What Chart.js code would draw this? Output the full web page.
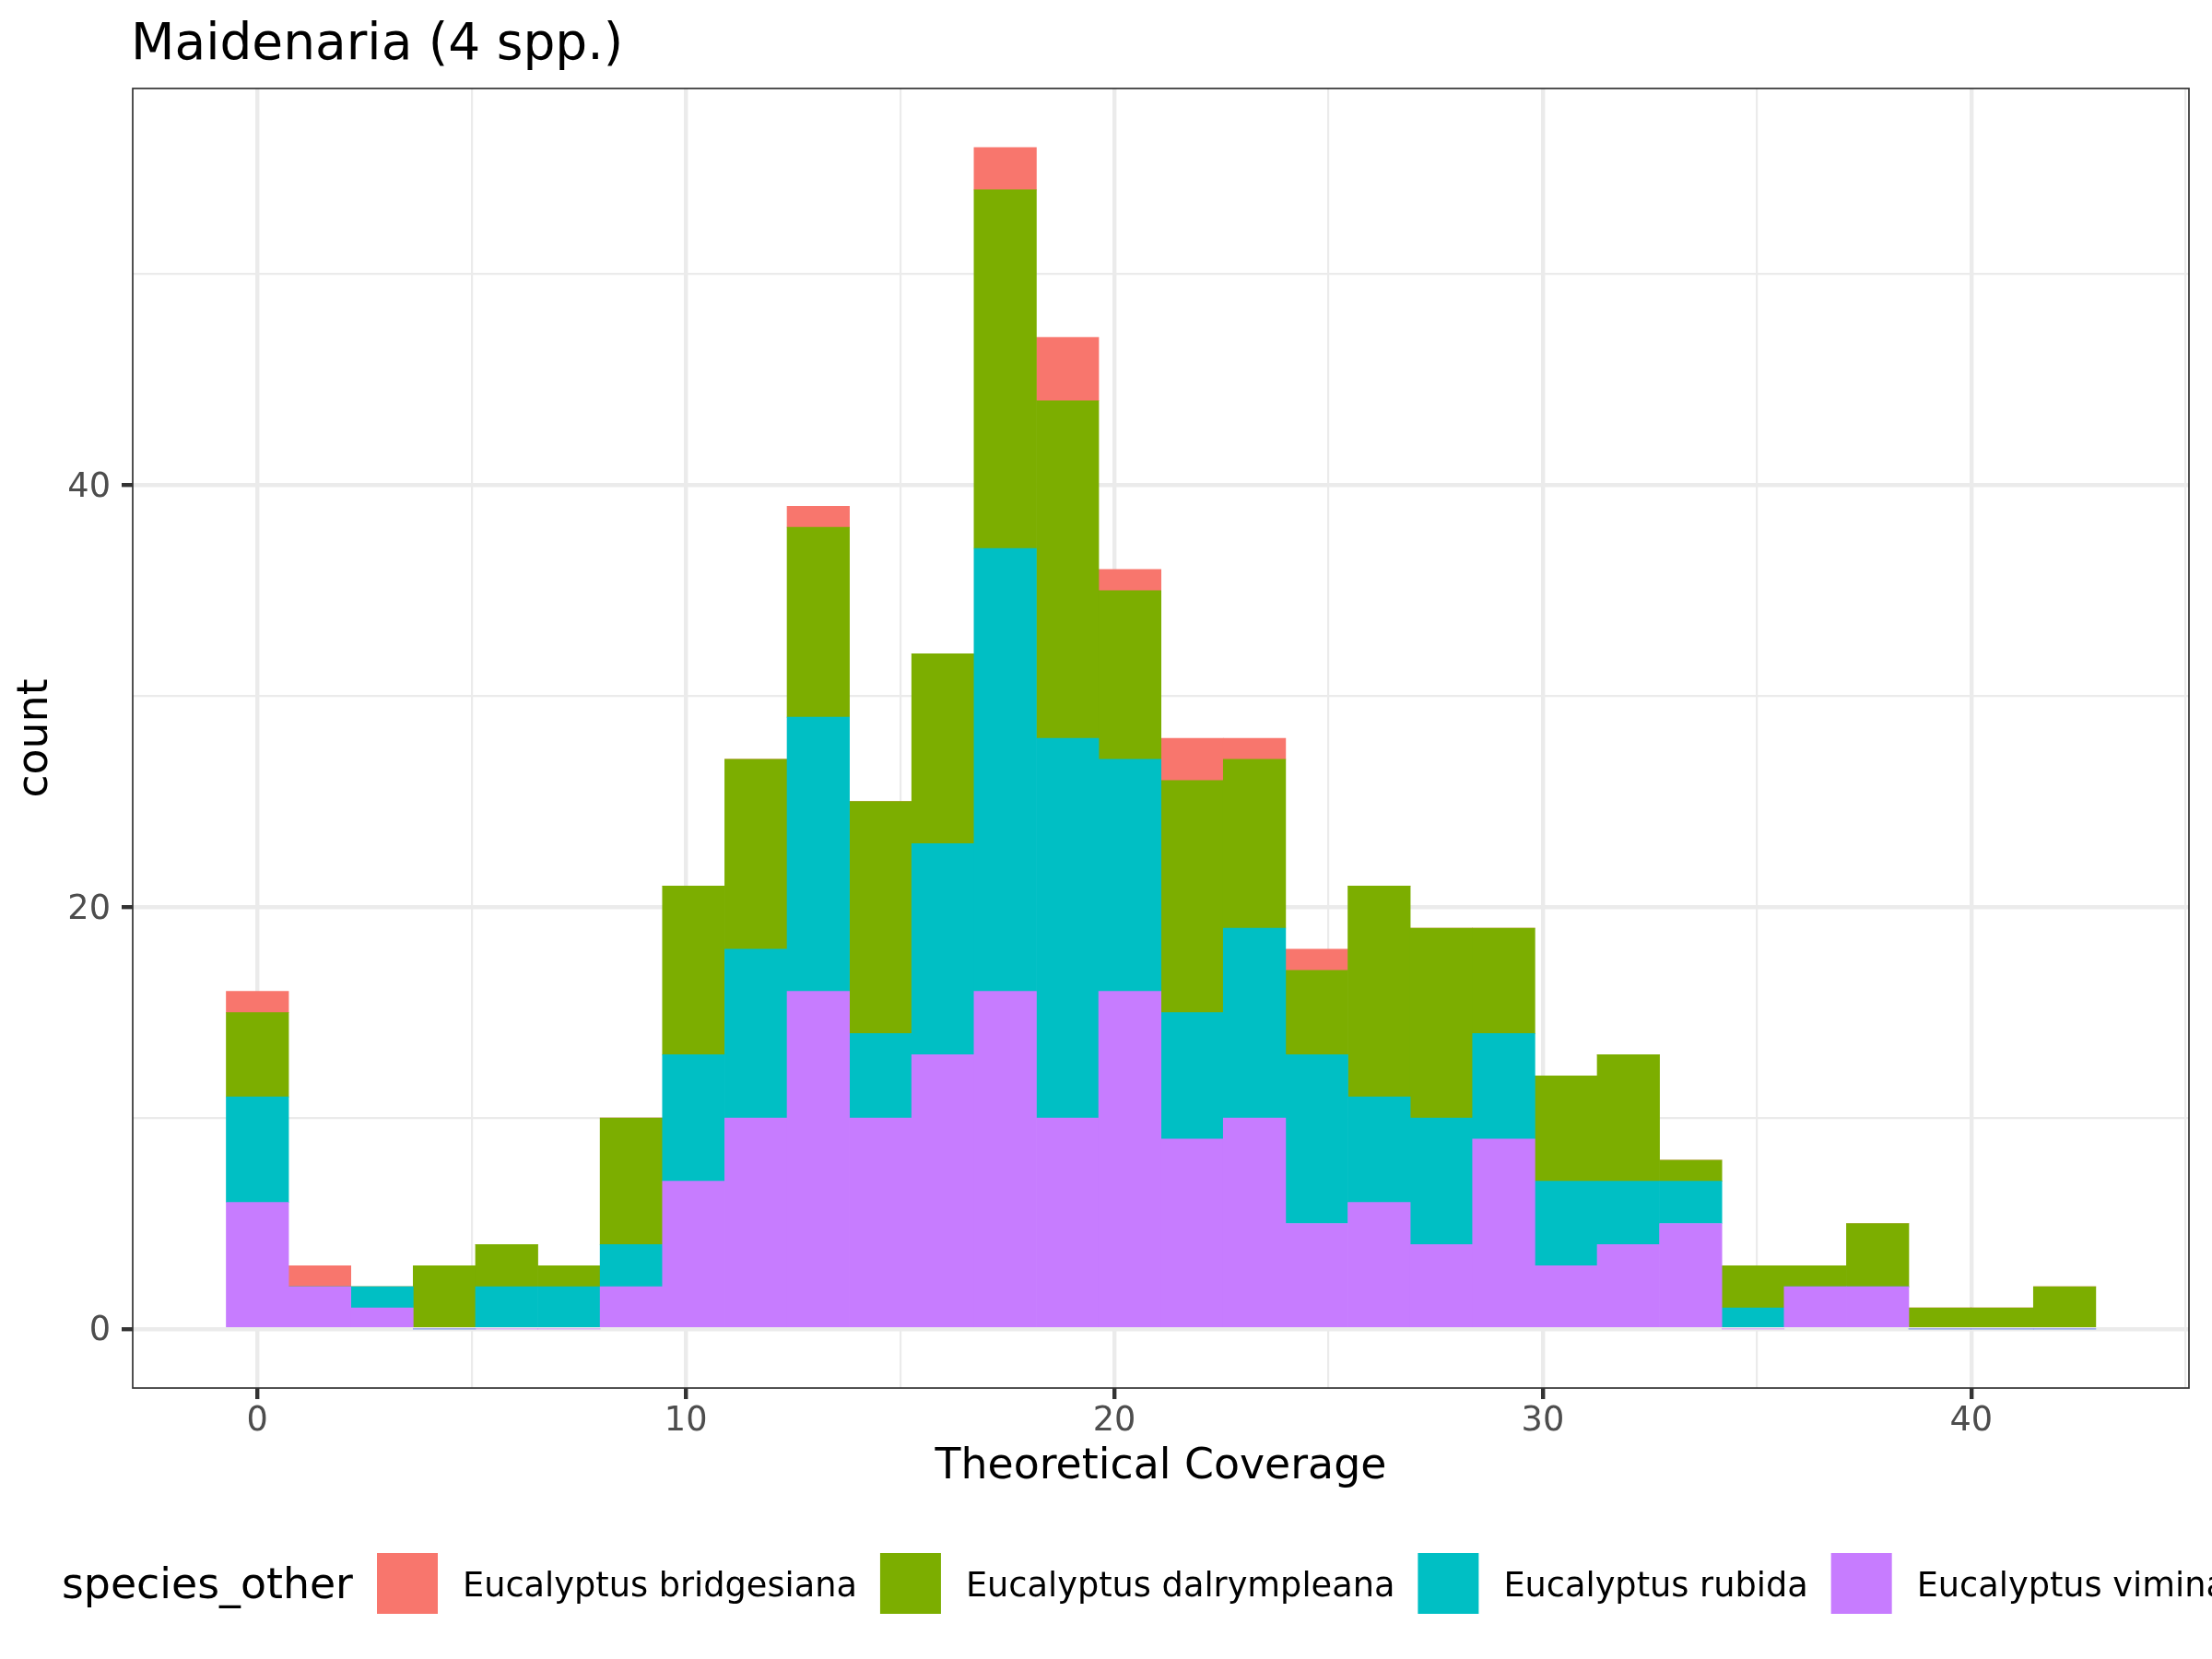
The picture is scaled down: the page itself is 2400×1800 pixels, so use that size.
<!DOCTYPE html>
<html>
<head>
<meta charset="utf-8">
<script src="https://cdn.jsdelivr.net/npm/chart.js@4/dist/chart.umd.min.js"></script>
<style>
  html, body { margin: 0; padding: 0; background: #fff; overflow: hidden; }
  #wrap { width: 2400px; height: 1800px; position: relative; }
</style>
</head>
<body>
<div id="wrap"><canvas id="hist"></canvas></div>
<script>
// bin centres of the 30 histogram bins (Theoretical Coverage)
const binCenters = [0, 1.454, 2.909, 4.363, 5.818, 7.272, 8.726, 10.181, 11.635, 13.090,
  14.544, 15.998, 17.453, 18.907, 20.362, 21.816, 23.270, 24.725, 26.179, 27.634,
  29.088, 30.542, 31.997, 33.451, 34.906, 36.360, 37.814, 39.269, 40.723, 42.178];

const species = ['Eucalyptus bridgesiana', 'Eucalyptus dalrympleana', 'Eucalyptus rubida', 'Eucalyptus viminalis'];
const speciesColors = ['#F8766D', '#7CAE00', '#00BFC4', '#C77CFF'];

// counts per bin, per species
const bridgesiana  = [1, 1, 0, 0, 0, 0, 0, 0, 0, 1, 0, 0, 2, 3, 1, 2, 1, 1, 0, 0, 0, 0, 0, 0, 0, 0, 0, 0, 0, 0];
const dalrympleana = [4, 0, 0, 3, 2, 1, 6, 8, 9, 9, 11, 9, 17, 16, 8, 11, 8, 4, 10, 9, 5, 5, 6, 1, 2, 1, 3, 1, 1, 2];
const rubida       = [5, 0, 1, 0, 2, 2, 2, 6, 8, 13, 4, 10, 21, 18, 11, 6, 9, 8, 5, 6, 5, 4, 3, 2, 1, 0, 0, 0, 0, 0];
const viminalis    = [6, 2, 1, 0, 0, 0, 2, 7, 10, 16, 10, 13, 16, 10, 16, 9, 10, 5, 6, 4, 9, 3, 4, 5, 0, 2, 2, 0, 0, 0];

const xTicks = [0, 10, 20, 30, 40];
const yTicks = [0, 20, 40];

const seriesBySpecies = [bridgesiana, dalrympleana, rubida, viminalis];

function toPoints(arr) {
    return arr.map((v, i) => ({ x: binCenters[i], y: v }));
}

// stack order bottom -> top: viminalis, rubida, dalrympleana, bridgesiana
const datasets = [3, 2, 1, 0].map(k => ({
    label: species[k],
    data: toPoints(seriesBySpecies[k]),
    backgroundColor: speciesColors[k],
    borderWidth: 0,
    barPercentage: 1.0,
    categoryPercentage: 1.0
}));

const FONT = 'DejaVu Sans';

const panelBorder = {
    id: 'panelBorder',
    afterDatasetsDraw(chart) {
        const { ctx, chartArea: a } = chart;
        ctx.save();
        ctx.strokeStyle = '#333333';
        ctx.lineWidth = 1.7;
        ctx.strokeRect(a.left, a.top, a.right - a.left, a.bottom - a.top);
        ctx.restore();
    }
};

const titleAndLegend = {
    id: 'titleAndLegend',
    afterDraw(chart) {
        const ctx = chart.ctx;
        ctx.save();
        ctx.fillStyle = '#000';
        ctx.textBaseline = 'alphabetic';
        ctx.textAlign = 'left';
        ctx.font = `55px "${FONT}"`;
        ctx.fillText('Maidenaria (4 spp.)', 142, 64);

        // legend at bottom (runs past the right edge, like the original)
        ctx.textBaseline = 'middle';
        ctx.font = `45.8px "${FONT}"`;
        ctx.fillText('species_other', 67, 1722);
        let x = 409;
        ctx.font = `36.7px "${FONT}"`;
        species.forEach((name, i) => {
            ctx.fillStyle = speciesColors[i];
            ctx.fillRect(x, 1685, 66, 66);
            ctx.fillStyle = '#000';
            const tx = x + 66 + 27;
            ctx.fillText(name, tx, 1722);
            x = tx + ctx.measureText(name).width + 25;
        });
        ctx.restore();
    }
};

const tickVal = c => (c && c.tick ? c.tick.value : null);
const isMajorX = v => xTicks.includes(v);
const isMajorY = v => yTicks.includes(v);

const config = {
    type: 'bar',
    data: { datasets: datasets },
    options: {
        responsive: true,
        maintainAspectRatio: false,
        animation: false,
        layout: { padding: { top: 96, right: 25, bottom: 160, left: 0 } },
        plugins: {
            legend: { display: false },
            title: { display: false },
            tooltip: { enabled: false }
        },
        scales: {
            x: {
                type: 'linear',
                stacked: true,
                min: -2.91,
                max: 45.08,
                offset: false,
                border: { display: false },
                afterFit(scale) { scale.height = 134; },
                ticks: {
                    stepSize: 5,
                    includeBounds: false,
                    autoSkip: false,
                    maxRotation: 0,
                    padding: 2,
                    color: '#4D4D4D',
                    font: { family: FONT, size: 36.7 },
                    callback: v => (isMajorX(v) ? String(v) : '')
                },
                grid: {
                    offset: false,
                    color: '#EBEBEB',
                    lineWidth: c => (isMajorX(tickVal(c)) ? 4.4 : 2.2),
                    tickColor: c => (isMajorX(tickVal(c)) ? '#333333' : 'rgba(0,0,0,0)'),
                    tickWidth: 4.4,
                    tickLength: 12
                },
                title: {
                    display: true,
                    text: 'Theoretical Coverage',
                    color: '#000',
                    font: { family: FONT, size: 45.8, lineHeight: 1.2 },
                    padding: { top: 0, bottom: 20 }
                }
            },
            y: {
                type: 'linear',
                stacked: true,
                min: -2.8,
                max: 58.8,
                border: { display: false },
                afterFit(scale) { scale.width = 144; },
                ticks: {
                    stepSize: 10,
                    includeBounds: false,
                    padding: 12,
                    labelOffset: 3,
                    color: '#4D4D4D',
                    font: { family: FONT, size: 36.7 },
                    callback: v => (isMajorY(v) ? String(v) : '')
                },
                grid: {
                    color: '#EBEBEB',
                    lineWidth: c => (isMajorY(tickVal(c)) ? 4.4 : 2.2),
                    tickColor: c => (isMajorY(tickVal(c)) ? '#333333' : 'rgba(0,0,0,0)'),
                    tickWidth: 4.4,
                    tickLength: 12
                },
                title: {
                    display: true,
                    text: 'count',
                    color: '#000',
                    font: { family: FONT, size: 45.8, lineHeight: 1.2 },
                    padding: { top: 11.5, bottom: 0 }
                }
            }
        }
    },
    plugins: [panelBorder, titleAndLegend]
};

const histChart = new Chart(document.getElementById('hist'), config);
</script>
</body>
</html>
